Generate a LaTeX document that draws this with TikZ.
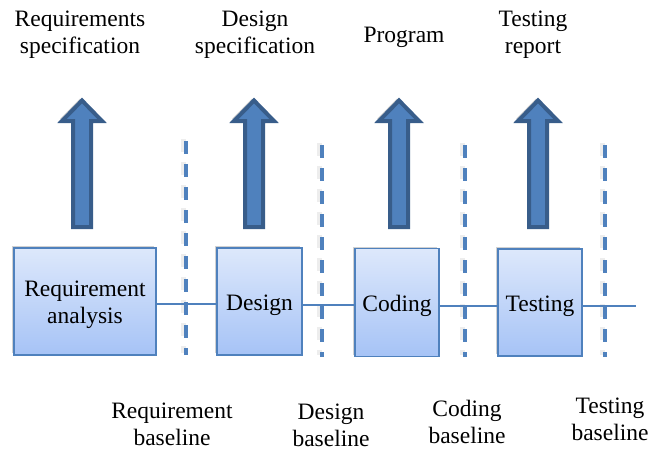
\documentclass[tikz,border=0pt]{standalone}
\usepackage{fontspec}
\setmainfont{Liberation Serif}
\usetikzlibrary{shadows}
\definecolor{accent}{HTML}{4F81BD}
\definecolor{darkacc}{HTML}{385D8A}
\definecolor{boxtop}{HTML}{DDE8FB}
\definecolor{boxbot}{HTML}{A6C3F6}
\tikzset{
  lbl/.style={inner sep=0pt, align=center, font=\fontsize{23.5}{27}\selectfont},
  stage/.style={draw=accent, line width=1.5pt, top color=boxtop, bottom color=boxbot,
    inner sep=0pt,
    drop shadow={shadow xshift=-2pt, shadow yshift=2pt, opacity=0.3, fill=black!60}},
  link/.style={draw=accent, line width=1.5pt},
  baseln/.style={draw=accent, line width=3.5pt, dash pattern=on 13pt off 10pt},
  baseshadow/.style={draw=black, opacity=0.07, line width=5pt, dash pattern=on 13pt off 10pt},
  blockarrow/.style={fill=accent, draw=darkacc, line width=4pt, line join=miter,
    drop shadow={shadow xshift=-2pt, shadow yshift=2pt, opacity=0.3, fill=black!60}},
}
\begin{document}
\begin{tikzpicture}[x=1pt,y=-1pt]
\useasboundingbox (0,0) rectangle (650,451);

% top labels
\node[lbl] (t1) at (80,34.5) {Requirements\\specification};
\node[lbl] (t2) at (255,34.5) {Design\\specification};
\node[lbl] (t3) at (404,37) {Program};
\node[lbl] (t4) at (533,34.5) {Testing\\report};

% block arrows
\foreach \cx/\nm in {82/a1,254/a2,399/a3,538/a4}{
  \path[blockarrow] (\cx-9,227) -- (\cx-9,121) -- (\cx-20,121) -- (\cx,100.5)
     -- (\cx+20,121) -- (\cx+9,121) -- (\cx+9,227) -- cycle;
  \coordinate (\nm) at (\cx,227);
}

% baselines (dashed)
\coordinate (d1t) at (186,141); \coordinate (d1b) at (186,355);
\coordinate (d2t) at (322,145); \coordinate (d2b) at (322,357);
\coordinate (d3t) at (465,145); \coordinate (d3b) at (465,357);
\coordinate (d4t) at (605,145); \coordinate (d4b) at (605,357);
\foreach \n in {1,2,3,4}{
  \draw[baseshadow] ([xshift=-3pt,yshift=2pt]d\n t) -- ([xshift=-3pt,yshift=2pt]d\n b);
}

% stage boxes
\node[stage, minimum width=142pt, minimum height=107pt] (s1) at (85,301.5) {};
\node[stage, minimum width=85pt, minimum height=107pt] (s2) at (259.5,301.5) {};
\node[stage, minimum width=84pt, minimum height=108pt] (s3) at (397,302.5) {};
\node[stage, minimum width=84pt, minimum height=107pt] (s4) at (540,302.5) {};
\node[lbl] (s1t) at ([yshift=-3pt]s1.center) {Requirement\\analysis};
\node[lbl] (s2t) at ([yshift=-3.5pt]s2.center) {Design};
\node[lbl] (s3t) at ([yshift=-3.5pt]s3.center) {Coding};
\node[lbl] (s4t) at ([yshift=-3.5pt]s4.center) {Testing};
\coordinate (end) at (636,306);

% connectors
\draw[link] (s1.east |- 0,304) -- (s2.west |- 0,304);
\draw[link] (s2.east |- 0,305) -- (s3.west |- 0,305);
\draw[link] (s3.east |- 0,306) -- (s4.west |- 0,306);
\draw[link] (s4.east |- end) -- (end);

\foreach \n in {1,2,3,4}{
  \draw[baseln] (d\n t) -- (d\n b);
}

% bottom labels
\node[lbl] (b1) at (172,424.5) {Requirement\\baseline};
\node[lbl] (b2) at (331,425) {Design\\baseline};
\node[lbl] (b3) at (467,422) {Coding\\baseline};
\node[lbl] (b4) at (610,419.5) {Testing\\baseline};
\end{tikzpicture}
\end{document}
